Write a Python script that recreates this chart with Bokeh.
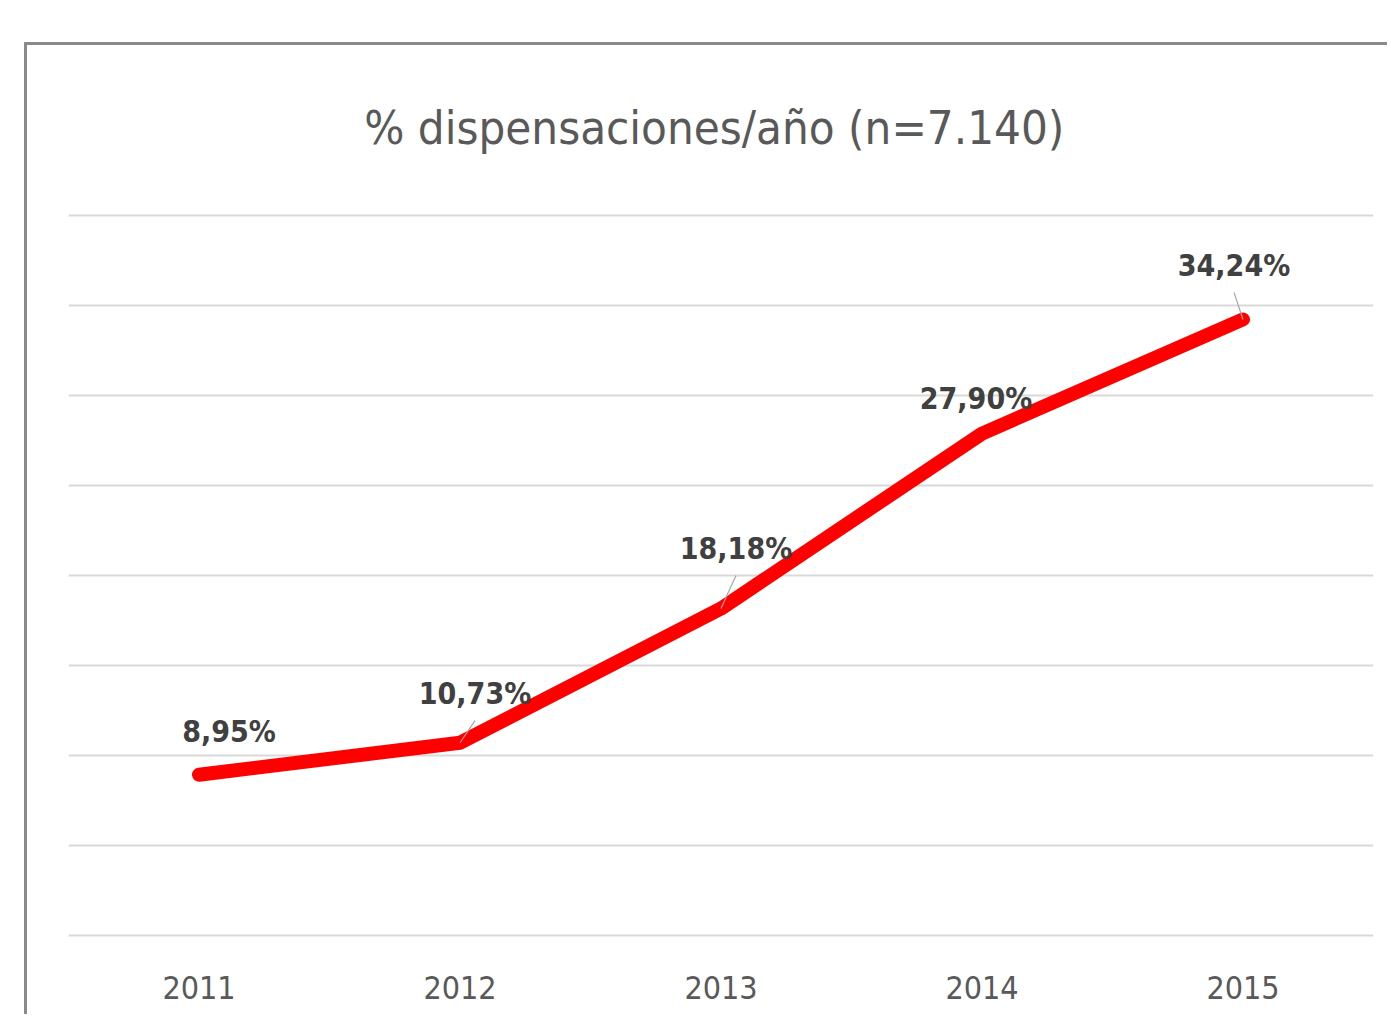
from bokeh.plotting import figure
from bokeh.models import FactorRange, Range1d, FixedTicker, Label, ColumnDataSource
from bokeh.core.properties import value
from bokeh.embed import file_html
from bokeh.resources import INLINE

# ---- data ----
years = ["2011", "2012", "2013", "2014", "2015"]
pct = [8.95, 10.73, 18.18, 27.90, 34.24]
pct_labels = ["8,95%", "10,73%", "18,18%", "27,90%", "34,24%"]
y_ticks = [0, 5, 10, 15, 20, 25, 30, 35, 40]
title_text = "% dispensaciones/año  (n=7.140)"

# ---- label layout (screen px offsets from each point) ----
label_dx = [30, 15, 15, -6, -9]
label_dy = [-43, -49, -60, -35, -54]
has_leader = [False, True, True, False, True]
LEADER_GAP = 27

FONT = "DejaVu Sans Condensed"
PX_PER_CAT = 261.0
PX_PER_UNIT = 18.0

p = figure(width=1363, height=972, x_range=FactorRange(factors=years, range_padding=0),
           y_range=Range1d(-0.2, 48.9), output_backend="svg", toolbar_location=None,
           min_border_left=41, min_border_right=17, min_border_top=10, min_border_bottom=78)
p.styles = {"margin-left": "24px", "margin-top": "42px",
            "border-left": "3px solid #8a8a8a", "border-top": "3px solid #8a8a8a"}
p.outline_line_color = None
p.background_fill_color = "white"
p.border_fill_color = "white"

p.yaxis.visible = False
p.xgrid.visible = False
p.ygrid.ticker = FixedTicker(ticks=y_ticks)
p.ygrid.grid_line_color = "#d9d9d9"
p.ygrid.grid_line_width = 2

ax = p.xaxis[0]
ax.axis_line_color = None
ax.major_tick_line_color = None
ax.minor_tick_line_color = None
ax.major_label_standoff = 30
ax.major_label_text_font = FONT
ax.major_label_text_font_size = "32px"
ax.major_label_text_color = "#595959"

xs = [i + 0.5 for i in range(len(years))]
p.line(xs, pct, line_color="#ff0000", line_width=14, line_cap="round", line_join="round")

# leader lines
lx0, ly0, lx1, ly1 = [], [], [], []
for i, v in enumerate(pct):
    if has_leader[i]:
        lx0.append(xs[i])
        ly0.append(v)
        lx1.append(xs[i] + label_dx[i] / PX_PER_CAT)
        ly1.append(v - (label_dy[i] + LEADER_GAP) / PX_PER_UNIT)
p.segment(lx0, ly0, lx1, ly1, line_color="#a6a6a6", line_width=1.2)

src = ColumnDataSource(dict(x=xs, y=pct, t=pct_labels, dx=label_dx, dy=label_dy))
p.text(x="x", y="y", text="t", x_offset="dx", y_offset="dy", source=src,
       text_font=value(FONT), text_font_style="bold", text_font_size="30px",
       text_color="#404040", text_align="center", text_baseline="alphabetic")

p.add_layout(Label(x=2.5, y=40 + (216 - 128) / PX_PER_UNIT, text=title_text,
                   text_font=FONT, text_font_size="47px", text_color="#595959",
                   text_align="center", text_baseline="alphabetic"))

open("out.html", "w").write(file_html(p, INLINE))
